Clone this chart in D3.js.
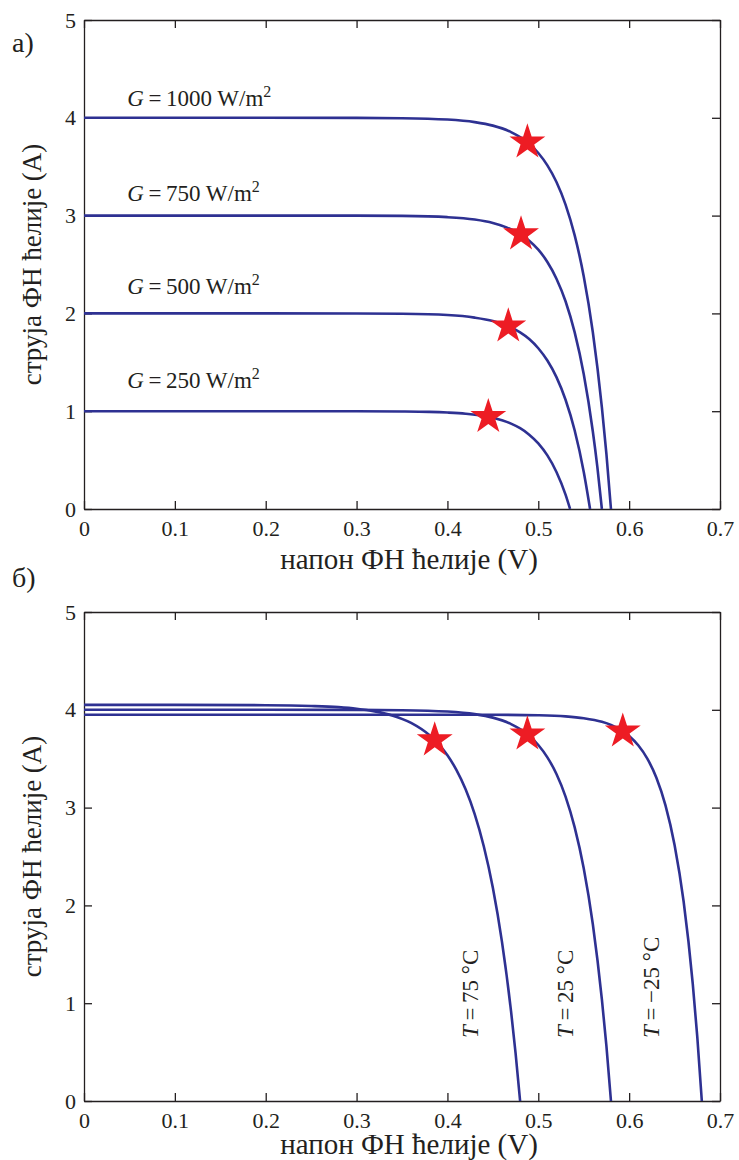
<!DOCTYPE html>
<html><head><meta charset="utf-8">
<script src="https://cdn.jsdelivr.net/npm/d3@7"></script>
<style>body{margin:0;background:#fff}svg{display:block}</style>
</head><body>
<svg id="c" width="739" height="1160"></svg>
<script>
// ---- data ----
const xTicks = [0, 0.1, 0.2, 0.3, 0.4, 0.5, 0.6, 0.7];
const xTickLabels = ["0", "0.1", "0.2", "0.3", "0.4", "0.5", "0.6", "0.7"];
const yTicks = [0, 1, 2, 3, 4, 5];
const yTickLabels = ["0", "1", "2", "3", "4", "5"];

const irradiance = ["1000", "750", "500", "250"];
const curveG1000 = [[0,4.0],[0.1,4.0],[0.2,4.0],[0.3,3.999],[0.35,3.996],[0.40,3.982],[0.43,3.956],[0.45,3.92],[0.47,3.854],[0.488,3.75],[0.50,3.64],[0.51,3.514],[0.52,3.344],[0.53,3.113],[0.54,2.80],[0.55,2.38],[0.56,1.81],[0.57,1.04],[0.575,0.56],[0.58,0]];
const curveG750 = [[0,3.0],[0.1,3.0],[0.2,3.0],[0.3,3.0],[0.35,2.997],[0.40,2.984],[0.43,2.96],[0.45,2.925],[0.465,2.88],[0.48,2.81],[0.49,2.744],[0.50,2.652],[0.51,2.526],[0.52,2.355],[0.53,2.124],[0.54,1.808],[0.55,1.38],[0.56,0.795],[0.565,0.43],[0.57,0]];
const curveG500 = [[0,2.0],[0.1,2.0],[0.2,2.0],[0.3,1.999],[0.35,1.996],[0.40,1.983],[0.43,1.957],[0.45,1.922],[0.467,1.869],[0.48,1.806],[0.49,1.738],[0.50,1.644],[0.51,1.518],[0.52,1.348],[0.53,1.117],[0.54,0.805],[0.55,0.382],[0.557,0]];
const curveG250 = [[0,1.0],[0.1,1.0],[0.2,1.0],[0.3,0.999],[0.35,0.997],[0.38,0.993],[0.40,0.986],[0.42,0.974],[0.445,0.943],[0.46,0.907],[0.47,0.873],[0.48,0.826],[0.49,0.760],[0.50,0.671],[0.51,0.548],[0.52,0.379],[0.53,0.147],[0.535,0]];
const mppG = [[0.488,3.75],[0.481,2.81],[0.467,1.869],[0.445,0.943]];

const temperature = ["75", "25", "\u221225"];
const curveT75 = [[0,4.05],[0.1,4.05],[0.2,4.047],[0.25,4.039],[0.28,4.027],[0.30,4.011],[0.32,3.984],[0.34,3.94],[0.36,3.866],[0.38,3.742],[0.39,3.652],[0.40,3.535],[0.41,3.383],[0.42,3.187],[0.43,2.934],[0.44,2.605],[0.45,2.181],[0.46,1.63],[0.47,0.92],[0.475,0.49],[0.48,0]];
const curveT25 = [[0,4.0],[0.1,4.0],[0.2,4.0],[0.3,3.999],[0.35,3.996],[0.40,3.982],[0.43,3.956],[0.45,3.92],[0.47,3.854],[0.488,3.75],[0.50,3.64],[0.51,3.514],[0.52,3.344],[0.53,3.113],[0.54,2.80],[0.55,2.38],[0.56,1.81],[0.57,1.04],[0.575,0.56],[0.58,0]];
const curveTm25 = [[0,3.95],[0.1,3.95],[0.2,3.95],[0.3,3.95],[0.4,3.95],[0.45,3.949],[0.50,3.944],[0.53,3.933],[0.55,3.914],[0.57,3.877],[0.58,3.845],[0.593,3.78],[0.60,3.733],[0.61,3.637],[0.62,3.501],[0.63,3.305],[0.64,3.023],[0.65,2.618],[0.66,2.037],[0.67,1.201],[0.675,0.655],[0.68,0]];
const mppT = [[0.386,3.69],[0.488,3.75],[0.593,3.78]];

const xTitle = "напон ФН ћелије (V)";
const yTitle = "струја ФН ћелије (A)";
const panelLabels = ["a)", "б)"];

// ---- drawing ----
const svg = d3.select("#c");
const lineColor = "#2e3192", starColor = "#ed1c24", axisColor = "#231f20";
const SERIF = "Liberation Serif";

function panel(cfg) {
  const x = d3.scaleLinear().domain([0, 0.7]).range([84, 720]);
  const y = d3.scaleLinear().domain([0, 5]).range([cfg.bottom, cfg.top]);
  const g = svg.append("g");
  const fmtX = (d, i) => xTickLabels[i];
  const fmtY = (d, i) => yTickLabels[i];
  const ax = [
    [d3.axisBottom(x).tickValues(xTicks).tickFormat(fmtX).tickPadding(11), `translate(0,${cfg.bottom})`],
    [d3.axisTop(x).tickValues(xTicks).tickFormat(""), `translate(0,${cfg.top})`],
    [d3.axisLeft(y).tickValues(yTicks).tickFormat(fmtY).tickPadding(8), `translate(84,0)`],
    [d3.axisRight(y).tickValues(yTicks).tickFormat(""), `translate(720,0)`]
  ];
  ax.forEach(([a, t]) => {
    const s = g.append("g").attr("transform", t).call(a.tickSizeInner(-8).tickSizeOuter(0));
    s.attr("font-family", SERIF).attr("font-size", 22);
    s.select(".domain").attr("stroke", axisColor).attr("stroke-width", 1.3);
    s.selectAll(".tick line").attr("stroke", axisColor).attr("stroke-width", 1.3);
    s.selectAll(".tick text").attr("fill", axisColor);
  });

  const line = d3.line().x(d => x(d[0])).y(d => y(d[1])).curve(d3.curveMonotoneX);
  cfg.curves.forEach(c => {
    g.append("path").datum(c).attr("d", line).attr("fill", "none")
      .attr("stroke", lineColor).attr("stroke-width", 2.6);
  });
  const star = d3.symbol().type(d3.symbolStar).size(400);
  g.selectAll(null).data(cfg.mpp).join("path").attr("d", star)
    .attr("transform", d => `translate(${x(d[0])},${y(d[1])})`)
    .attr("fill", starColor);

  // axis titles
  g.append("text").attr("x", 409).attr("y", cfg.titleY).attr("text-anchor", "middle")
    .attr("font-size", 29).attr("font-family", SERIF).attr("fill", axisColor).text(xTitle);
  g.append("text").attr("transform", `translate(41,${(cfg.top + cfg.bottom) / 2}) rotate(-90)`)
    .attr("text-anchor", "middle").attr("font-size", 27).attr("font-family", SERIF).attr("fill", axisColor).text(yTitle);
  g.append("text").attr("x", 12).attr("y", cfg.labelY).attr("font-size", 28).attr("font-family", SERIF).attr("fill", axisColor).text(cfg.label);
  return {x, y, g};
}

const p1 = panel({top: 20, bottom: 509, titleY: 569, curves: [curveG1000, curveG750, curveG500, curveG250], mpp: mppG, label: panelLabels[0], labelY: 52});
const gBase = [4.12, 3.15, 2.2, 1.24];
irradiance.forEach((v, i) => {
  const t = p1.g.append("text").attr("x", p1.x(0.0475)).attr("y", p1.y(gBase[i]))
    .attr("font-size", 23).attr("font-family", SERIF).attr("fill", axisColor);
  t.append("tspan").attr("font-style", "italic").text("G");
  t.append("tspan").text("\u2009=\u2009" + v + " W/m");
  t.append("tspan").attr("font-size", 16).attr("dy", -9).text("2");
});

const p2 = panel({top: 612, bottom: 1101, titleY: 1154, curves: [curveT75, curveT25, curveTm25], mpp: mppT, label: panelLabels[1], labelY: 587});
const tX = [0.434, 0.538, 0.633];
temperature.forEach((v, i) => {
  const t = p2.g.append("text").attr("transform", `translate(${p2.x(tX[i])},1038) rotate(-90)`)
    .attr("font-size", 23).attr("font-family", SERIF).attr("fill", axisColor);
  t.append("tspan").attr("font-style", "italic").text("T");
  t.append("tspan").text("\u2009=\u2009" + v + " °C");
});
</script>
</body></html>
